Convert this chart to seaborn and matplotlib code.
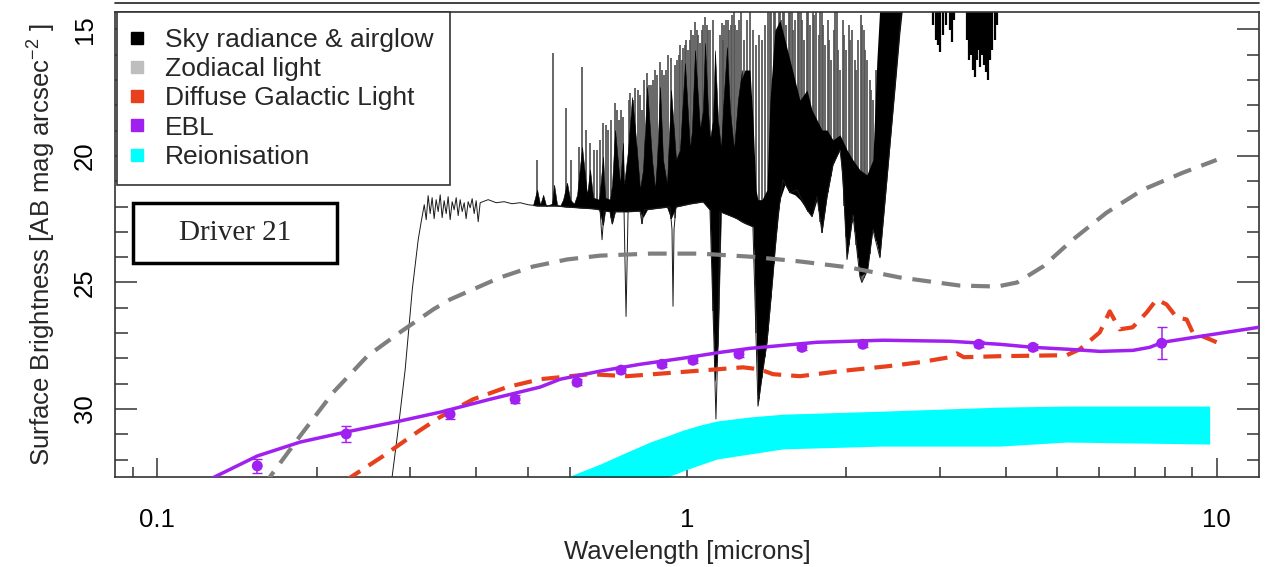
import numpy as np
import matplotlib
matplotlib.use("Agg")
import matplotlib.pyplot as plt
from matplotlib.lines import Line2D
from matplotlib.patches import Rectangle
from matplotlib.ticker import FixedLocator, LogLocator, NullFormatter, MultipleLocator, FuncFormatter
import seaborn as sns

sns.set_theme(style="ticks")
plt.rcParams['font.family'] = ['Liberation Sans', 'DejaVu Sans']
plt.rcParams['mathtext.fontset'] = 'custom'
plt.rcParams['mathtext.rm'] = 'Liberation Sans'
plt.rcParams['mathtext.it'] = 'Liberation Sans:italic'

# ---- data (wavelength in microns, AB mag/arcsec^2) ----
legend_labels = ["Sky radiance & airglow", "Zodiacal light", "Diffuse Galactic Light", "EBL", "Reionisation"]
legend_colors = ["black", "#BEBEBE", "#E8401C", "#A020F0", "#00FFFF"]

zodi_wl = [0.158, 0.186, 0.215, 0.249, 0.287, 0.332, 0.357, 0.444, 0.512, 0.594, 0.685, 0.852, 1.058,
           1.315, 1.634, 2.03, 2.52, 3.27, 3.85, 4.20, 4.70, 5.35, 6.20, 7.25, 8.62, 10.0]
zodi_mag = [33.07, 31.06, 29.33, 27.91, 26.97, 26.06, 25.67, 24.80, 24.37, 24.09, 23.94, 23.86, 23.86,
            23.98, 24.17, 24.41, 24.80, 25.12, 25.16, 25.00, 24.37, 23.31, 22.24, 21.34, 20.67, 20.16]

dgl_wl = [0.2263, 0.2670, 0.3094, 0.3420, 0.3947, 0.4575, 0.5281, 0.6561, 0.7705, 1.0264, 1.2756, 1.3732,
          1.4531, 1.6339, 1.9444, 2.3846, 2.7528, 3.135, 3.232, 3.332, 3.896, 5.212, 5.513, 6.016, 6.283,
          6.561, 6.941, 7.379, 7.706, 8.047, 8.405, 8.778, 9.011, 9.700, 10.0]
dgl_mag = [32.83, 31.85, 30.91, 30.31, 29.61, 29.13, 28.82, 28.62, 28.70, 28.50, 28.35, 28.43,
           28.62, 28.70, 28.50, 28.31, 28.15, 27.95, 27.80, 27.95, 27.91, 27.87, 27.64, 26.97, 26.14,
           26.85, 26.77, 26.18, 25.67, 25.87, 26.38, 26.46, 26.97, 27.24, 27.36]

ebl_wl = [0.1259, 0.1544, 0.1861, 0.2263, 0.2870, 0.3420, 0.4249, 0.5281, 0.5760, 0.6853, 0.8152, 0.9828,
          1.1541, 1.3147, 1.7596, 2.3432, 3.135, 3.896, 4.50, 5.28, 6.02, 6.95, 7.475, 7.91, 9.29, 12.0]
ebl_mag = [32.76, 31.85, 31.30, 30.91, 30.47, 30.12, 29.61, 29.13, 28.82, 28.50, 28.23, 27.99,
           27.76, 27.60, 27.36, 27.28, 27.32, 27.44, 27.56, 27.64, 27.72, 27.68, 27.56, 27.36, 27.13, 26.77]

ebl_pt_wl = [0.1544, 0.2273, 0.357, 0.4736, 0.620, 0.7508, 0.8969, 1.0264, 1.2535, 1.6482, 2.1482, 3.5563, 4.50, 7.875]
ebl_pt_mag = [32.24, 30.98, 30.20, 29.61, 28.94, 28.46, 28.23, 28.07, 27.83, 27.56, 27.44, 27.44, 27.56, 27.40]
ebl_pt_err = [0.28, 0.30, 0.20, 0.15, 0.12, 0.12, 0.12, 0.12, 0.12, 0.12, 0.12, 0.12, 0.12, 0.63]

reion_wl = [0.55, 0.6016, 0.6853, 0.7638, 0.8516, 0.9288, 0.9828, 1.0581, 1.1392, 1.3147, 1.5176, 2.34, 3.90, 5.21, 9.70]
reion_hi = [32.95, 32.64, 32.17, 31.73, 31.30, 31.02, 30.83, 30.63, 30.47, 30.31, 30.20, 30.08, 29.92, 29.88, 29.88]
reion_lo = [35.5, 35.1, 34.2, 33.6, 32.95, 32.64, 32.44, 32.20, 31.97, 31.77, 31.57, 31.46, 31.46, 31.30, 31.38]

# sky spectrum: continuum / lower envelope with absorption dips
sky_wl = [0.2764, 0.2849, 0.2937, 0.3029, 0.3108, 0.3149,
          0.3191, 0.3218, 0.3245, 0.3274, 0.3302, 0.3331, 0.3360, 0.3390, 0.3420, 0.3449, 0.3479, 0.3510,
          0.3540, 0.3571, 0.3603, 0.3634, 0.3666, 0.3698, 0.3730, 0.3763, 0.3796, 0.3828, 0.3862, 0.3896,
          0.3930, 0.3964, 0.3999, 0.4034, 0.4069,
          0.4213, 0.4362, 0.4515, 0.4675, 0.4841, 0.5012, 0.5212, 0.5420, 0.5661, 0.5887, 0.6284, 0.6705,
          0.6853, 0.6912, 0.6973, 0.7156, 0.7219, 0.7282, 0.7606, 0.7672, 0.7740, 0.8152, 0.8224, 0.8297,
          0.8894, 0.9288, 0.9369, 0.9410, 0.9451, 0.9533, 1.0131, 1.0720, 1.1050, 1.1243, 1.1341, 1.1441,
          1.1541, 1.2318, 1.2864, 1.3319, 1.3614, 1.4157, 1.4531, 1.4849, 1.5176, 1.5645, 1.6126, 1.6846,
          1.7216, 1.7596, 1.7982, 1.8380, 1.8862, 1.9444, 1.9697, 2.0044, 2.0571, 2.1202, 2.1388, 2.1954,
          2.2436, 2.3131, 2.4155, 2.5450]
sky_mag = [32.95, 30.79, 28.43, 25.28, 23.31, 22.60,
           21.93, 22.52, 21.57, 22.28, 21.65, 22.48, 21.73, 22.20, 21.54, 22.44, 21.77, 22.28,
           21.61, 22.52, 21.81, 22.13, 21.65, 22.36, 21.73, 22.20, 21.85, 22.48, 21.81, 22.05,
           21.69, 22.28, 21.77, 22.60, 21.85,
           21.73, 21.85, 21.81, 21.89, 21.85, 21.93, 21.97, 21.97, 21.97, 22.01, 22.05, 22.09,
           22.13, 23.31, 22.17, 22.20, 22.68, 22.20, 22.20, 26.34, 22.20, 22.17, 22.68, 22.13,
           22.05, 22.01, 22.91, 25.94, 22.91, 22.01, 21.89, 21.81, 22.13, 27.36, 30.39, 27.36,
           22.20, 22.44, 22.64, 22.80, 29.88, 27.36, 24.76, 22.40, 20.94, 21.46, 21.34, 22.13,
           22.40, 21.61, 23.03, 21.61, 20.35, 19.76, 20.75, 24.09, 22.32, 24.76, 25.00, 24.49,
           22.91, 24.02, 19.61, 14.06]

# dark cores of the airglow bands (peaks and troughs of the black envelope)
glow_wl = [0.5122, 0.5212, 0.5281, 0.5351, 0.5420, 0.5562, 0.5612, 0.5684,
           0.5760, 0.5834, 0.5936, 0.6016, 0.6120, 0.6201, 0.6337, 0.6476, 0.6561, 0.6647,
           0.6823, 0.6943, 0.7003, 0.7156, 0.7219, 0.7314, 0.7474, 0.7571, 0.7606, 0.7740,
           0.7875, 0.8013, 0.8152, 0.8260, 0.8407, 0.8590, 0.8702, 0.8779, 0.8894, 0.9009,
           0.9168, 0.9329, 0.9533, 0.9701, 0.9913, 1.0131, 1.0219, 1.0354, 1.0581, 1.0720,
           1.0814, 1.0955, 1.1050, 1.1198, 1.1292, 1.1441, 1.1592, 1.1693, 1.1898, 1.2052,
           1.2266, 1.2480, 1.2699]
glow_mag = [21.93, 21.34, 21.93, 21.54, 21.97, 21.89, 21.14, 21.93,
            21.97, 21.73, 21.06, 21.73, 21.89, 21.54, 19.65, 21.54, 20.55, 21.65,
            21.73, 20.04, 21.65, 21.73, 21.14, 18.98, 21.14, 19.49, 21.14, 19.76,
            17.68, 19.37, 21.34, 20.55, 17.28, 20.16, 21.34, 20.16, 17.28, 20.16,
            21.14, 17.40, 20.16, 19.76, 16.34, 19.76, 18.98, 15.83, 18.98, 18.19,
            15.55, 18.19, 19.37, 18.58, 15.83, 18.58, 19.76, 18.19, 15.71, 18.19,
            19.76, 17.80, 16.61]

# dense part of the NIR forest (solid black)
band_wl = [1.2480, 1.2644, 1.2864, 1.3147, 1.3319, 1.3494, 1.3614, 1.3853, 1.4157, 1.4343, 1.4656, 1.4979,
           1.5309, 1.5645, 1.5988, 1.6339, 1.6846, 1.7216, 1.7596, 1.7982, 1.8380, 1.8862, 1.9444, 2.0044,
           2.0571, 2.1202, 2.1857, 2.2436, 2.2830, 2.3131, 2.3638, 2.4155, 2.4689, 2.5228, 2.5552]
band_lo = [22.52, 22.60, 22.68, 22.76, 22.80, 26.46, 29.88, 28.62, 27.36, 26.06, 23.70, 21.73,
           21.14, 21.46, 21.54, 21.73, 22.13, 22.40, 21.73, 23.03, 21.61, 20.35, 19.76, 24.09,
           22.32, 24.76, 24.57, 22.91, 23.50, 24.02, 21.85, 19.61, 17.40, 15.16, 14.06]
band_hi = [20.94, 17.01, 16.61, 16.61, 18.58, 21.34, 21.73, 21.73, 21.34, 17.80, 15.04, 14.65,
           15.43, 16.22, 17.01, 17.80, 17.40, 18.19, 18.58, 18.98, 18.98, 19.37, 19.17, 19.76,
           20.16, 20.55, 20.75, 20.16, 16.22, 14.06, 14.06, 14.06, 14.06, 14.06, 14.06]

# individual airglow emission lines (peak brightness)
line_wl = [0.5212, 0.5587, 0.5910, 0.6255, 0.6337, 0.6561, 0.6765, 0.6943, 0.7095, 0.7314, 0.7443, 0.7571,
           0.7773, 0.7807, 0.7978, 0.8152, 0.8297, 0.8407, 0.8553, 0.8702, 0.8894, 0.9049, 0.9208, 0.9330,
           0.9574, 0.9701, 0.9828, 0.9957, 1.0044, 1.0175, 1.0354, 1.0490, 1.0581, 1.0720, 1.0814, 1.0955,
           1.1050, 1.1198, 1.1541, 1.1646, 1.1693, 1.1845, 1.2000, 1.2159, 1.2318, 1.2428,
           0.6042, 0.6447, 0.6680, 0.6853, 0.7034, 0.7187, 0.7378, 0.7508, 0.7909, 0.8083, 0.8224, 0.8479,
           0.8627, 0.8779, 0.8969, 0.9128, 0.9492, 0.9658, 0.9786, 0.9913, 1.0131, 1.0264, 1.0444, 1.0673,
           1.0907, 1.1743, 1.1950, 1.2106, 1.2266, 1.2535,
           1.2644, 1.2809, 1.2977, 1.3147, 1.3319, 1.3494, 1.3673, 1.3853, 1.4035, 1.4219, 1.4406, 1.4596,
           1.4786, 1.4979, 1.5176, 1.5376, 1.5576, 1.5782, 1.5988, 1.6197, 1.6410, 1.6627, 1.6846, 1.7068,
           1.7291, 1.7519, 1.7750, 1.7982, 1.8220, 1.8450, 1.8696, 1.8942, 1.9187, 1.9444, 1.9697, 1.9953,
           2.0216, 2.0477, 2.0749, 2.1019, 2.1296, 2.1577, 2.1857, 2.2146, 2.2436, 2.2729,
           1.4374, 1.4689, 1.4914, 1.5077, 1.5276, 1.5679, 1.5884, 1.6307, 1.6521, 1.6956, 1.7404, 1.7864,
           1.8099, 1.8577, 1.9067, 1.9316, 1.9826, 2.0349, 2.0886, 2.1438, 2.1720, 2.2289]
line_peak = [20.16, 15.94, 18.11, 19.65, 16.50, 19.49, 19.76, 18.70, 18.98, 17.91, 18.58, 18.46,
             17.80, 17.52, 17.32, 17.60, 17.01, 16.73, 17.20, 16.61, 16.30, 16.81, 16.02, 16.14,
             16.22, 15.63, 15.75, 15.43, 15.83, 15.04, 14.72, 15.24, 15.55, 14.84, 14.53, 15.04,
             15.04, 14.65, 15.24, 14.76, 15.43, 14.65, 15.04, 14.45, 14.84, 15.04,
             20.16, 18.98, 19.76, 19.37, 18.78, 18.58, 18.19, 18.19, 17.80, 17.40, 18.19, 17.20,
             17.01, 16.81, 16.61, 16.61, 16.42, 16.02, 16.22, 15.63, 15.43, 15.24, 15.04, 15.04,
             14.84, 14.84, 14.65, 14.84, 14.33, 14.65,
             14.17, 15.43, 14.65, 14.17, 15.04, 15.63, 15.24, 15.43, 14.84, 14.17, 14.17, 14.17,
             15.04, 14.17, 14.17, 14.84, 14.17, 14.17, 14.65, 14.17, 14.17, 15.43, 14.17, 14.84,
             14.17, 14.17, 15.24, 14.17, 15.63, 14.65, 16.22, 15.04, 14.17, 16.61, 14.65, 15.83,
             14.84, 15.04, 16.22, 15.43, 14.45, 15.04, 16.22, 17.01, 17.80, 16.61,
             14.17, 14.17, 14.17, 14.65, 14.17, 14.17, 15.04, 14.17, 14.65, 14.17, 14.45, 14.17,
             14.84, 15.43, 14.17, 15.83, 15.24, 15.43, 16.61, 14.84, 15.83, 17.40]

# absorption features hanging from the bright thermal sky (3-4 micron)
hang_wl = [2.9120, 2.9497, 2.9757, 3.0024, 3.0409, 3.0810, 3.1350, 3.1623, 3.1901, 3.3752, 3.4049, 3.4348,
           3.4650, 3.4951, 3.5260, 3.5563, 3.5719, 3.6033, 3.6350, 3.6669, 3.6988, 3.7310, 3.7635, 3.8122,
           3.8459]
hang_mag = [14.84, 15.43, 15.63, 15.91, 15.24, 14.84, 15.04, 15.51, 14.65, 15.43, 16.22, 16.02,
            16.61, 16.89, 16.22, 15.83, 16.50, 16.02, 16.42, 16.69, 17.01, 16.22, 15.83, 15.43,
            14.84]

# ---- figure ----
fig = plt.figure(figsize=(12.65, 5.67), dpi=100)
ax = fig.add_axes([115 / 1265, 1 - 477 / 567, 1144 / 1265, 465 / 567])
ax.set_xscale('log')

sky_top = 13.9
line_base = np.interp(line_wl, sky_wl, sky_mag)
ax.vlines(line_wl, line_peak, line_base, color='0.33', lw=1.25, zorder=1.0)
glow_base = np.interp(glow_wl, sky_wl, sky_mag)
ax.fill_between(glow_wl, glow_mag, glow_base, color='black', lw=0.4, zorder=1.1)
ax.fill_between(band_wl, band_lo, band_hi, color='black', lw=0, zorder=1.1)
ax.plot(sky_wl, sky_mag, color='0.1', lw=0.7, zorder=1.3)
ax.vlines(hang_wl, sky_top, hang_mag, color='black', lw=1.6, zorder=1.3)

ax.fill_between(reion_wl, reion_lo, reion_hi, color=legend_colors[4], lw=0, zorder=2)

sns.lineplot(x=zodi_wl, y=zodi_mag, ax=ax, sort=False, estimator=None, color='#7F7F7F',
             lw=3, linestyle=(0, (4.5, 2.6)), zorder=3)
sns.lineplot(x=dgl_wl, y=dgl_mag, ax=ax, sort=False, estimator=None, color=legend_colors[2],
             lw=3, linestyle=(0, (4.3, 2.4)), zorder=3)
sns.lineplot(x=ebl_wl, y=ebl_mag, ax=ax, sort=False, estimator=None, color=legend_colors[3],
             lw=2.5, zorder=4)
ax.errorbar(ebl_pt_wl, ebl_pt_mag, yerr=ebl_pt_err, fmt='none', ecolor=legend_colors[3],
            elinewidth=1.1, capsize=3.5, zorder=4)
sns.scatterplot(x=ebl_pt_wl, y=ebl_pt_mag, ax=ax, color=legend_colors[3], s=62, edgecolor='none', zorder=5)

# axes
ax.set_xlim(10 ** -1.08, 10 ** 1.08)
ax.set_ylim(32.68, 14.32)
ax.xaxis.set_major_locator(FixedLocator([0.1, 1, 10]))
ax.xaxis.set_major_formatter(FuncFormatter(lambda v, p: f"{v:g}"))
ax.xaxis.set_minor_locator(LogLocator(base=10, subs=np.arange(2, 10), numticks=30))
ax.xaxis.set_minor_formatter(NullFormatter())
ax.set_yticks([15, 20, 25, 30])
ax.set_yticklabels(['15', '20', '25', '30'], rotation=90, va='center')
ax.yaxis.set_minor_locator(MultipleLocator(1))

ax.tick_params(axis='both', which='both', direction='in', color='#333333', labelcolor='black',
               labelsize=18.5, right=True, top=False)
ax.tick_params(axis='x', which='major', length=14, width=1.1, pad=22)
ax.tick_params(axis='x', which='minor', length=7, width=1.1)
ax.tick_params(axis='y', which='major', length=16, width=1.1, pad=13)
ax.tick_params(axis='y', which='minor', length=9, width=1.1)
for s in ax.spines.values():
    s.set_color('#333333')
    s.set_linewidth(1.2)

ax.set_xlabel('Wavelength [microns]', fontsize=18.5, labelpad=6)
ax.set_ylabel('Surface Brightness [AB mag arcsec$^{-2}$ ]', fontsize=18.5, labelpad=11)

handles = [Line2D([], [], marker='s', ls='none', color=c, markersize=8) for c in legend_colors]
leg = ax.legend(handles, legend_labels, loc='upper left', bbox_to_anchor=(0.0017, 1.0),
                borderaxespad=0, frameon=True, fancybox=False, edgecolor='#333333', fontsize=19,
                labelspacing=0.2, handlelength=0.35, handletextpad=0.88, borderpad=0.6)
leg.get_frame().set_linewidth(1.2)
leg.get_frame().set_alpha(1)
leg.set_zorder(10)

ax.add_patch(Rectangle((0.0157, 0.460), 0.178, 0.129, transform=ax.transAxes, facecolor='white',
                       edgecolor='black', lw=2.5, zorder=8))
ax.text(0.105, 0.525, 'Driver 21', transform=ax.transAxes, ha='center', va='center',
        fontsize=21, family=['Liberation Serif', 'DejaVu Serif'], zorder=9)

fig.add_artist(Line2D([115 / 1265, 1259 / 1265], [1 - 3 / 567, 1 - 3 / 567], color='#222222', lw=1.2))

fig.savefig('out.png', dpi=100)
